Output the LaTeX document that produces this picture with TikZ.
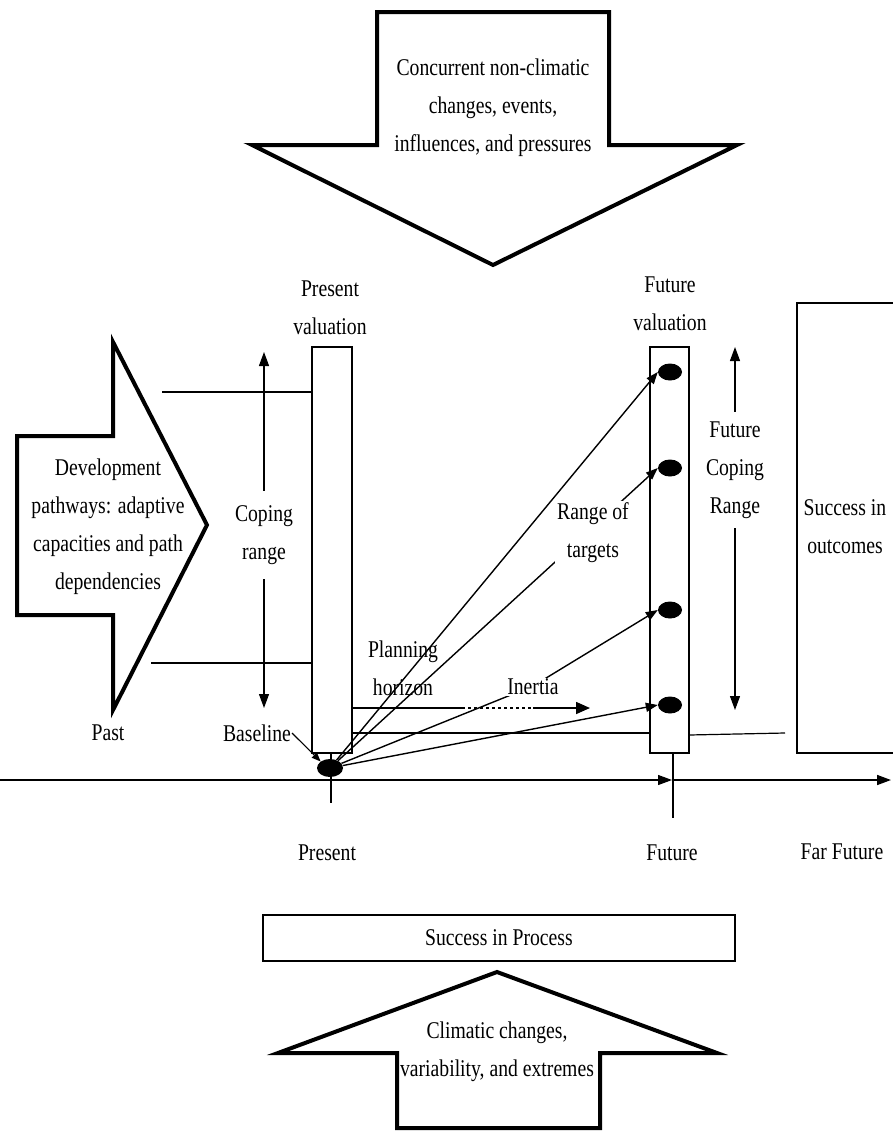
\documentclass[tikz,border=0pt]{standalone}
\usepackage{fontspec}
\setmainfont{Liberation Serif}[FakeStretch=0.82]
\usetikzlibrary{arrows.meta,shapes.geometric}
\newcommand\lbfont{\fontsize{24}{38}\selectfont}
\begin{document}
\begin{tikzpicture}[x=1pt,y=-1pt,
  bigarrow/.style={draw,line width=4pt,fill=white,line join=miter},
  lbl/.style={font=\lbfont,align=center,inner sep=1pt},
  gaplbl/.style={lbl,fill=white},
  bar/.style={draw,line width=1.3pt},
  thin/.style={line width=1.2pt},
  tgt/.style={line width=1.4pt,-{Triangle[length=12pt,width=9pt]}},
  dbl/.style={line width=1.2pt,{Triangle[length=14pt,width=10pt]}-{Triangle[length=14pt,width=10pt]}},
  dot/.style={ellipse,fill=black,minimum width=24pt,minimum height=17pt,inner sep=0pt}]
\useasboundingbox (0,0) rectangle (893,1135);

% big arrows
\draw[bigarrow] (377,12) -- (609,12) -- (609,145) -- (737,145) -- (493,265) -- (252,145) -- (377,145) -- cycle;
\node[lbl] (topTxt) at (493,108) {Concurrent non-climatic\\changes, events,\\influences, and pressures};

\draw[bigarrow] (17,436) -- (113,436) -- (113,342) -- (207,525) -- (113,710) -- (113,615) -- (17,615) -- cycle;
\node[lbl] (leftTxt) at (108,527) {Development\\pathways: adaptive\\capacities and path\\dependencies};

\draw[bigarrow] (397,1128) -- (397,1053) -- (278,1053) -- (497,972) -- (717,1053) -- (600,1053) -- (600,1128) -- cycle;
\node[lbl] (botTxt) at (497,1052) {Climatic changes,\\variability, and extremes};

% bars
\node[bar,minimum width=40pt,minimum height=406pt,inner sep=0pt] (presBar) at (332,550) {};
\node[bar,minimum width=39pt,minimum height=406pt,inner sep=0pt] (futBar) at (669.5,550) {};
\draw[bar] (900,303) -- (797,303) -- (797,753) -- (900,753);
\node[lbl] (outTxt) at (845,527) {Success in\\outcomes};
\node[lbl] (presVal) at (330,308) {Present\\valuation};
\node[lbl] (futVal) at (670,304) {Future\\valuation};

% reference lines
\coordinate (u0) at (162,392); \coordinate (u1) at (312,392);
\coordinate (l0) at (151,663); \coordinate (l1) at (312,663);
\coordinate (m0) at (352,733); \coordinate (m1) at (650,733);
\coordinate (r0) at (689,735); \coordinate (r1) at (785,733);
\draw[thin] (u0) -- (u1);
\draw[thin] (l0) -- (l1);
\draw[thin] (m0) -- (m1);
\draw[thin] (r0) -- (r1);

% coping ranges
\coordinate (c0) at (264,352); \coordinate (c1) at (264,708);
\draw[dbl] (c0) -- (c1);
\node[gaplbl,inner ysep=14pt] (coping) at (264,535) {Coping\\range};
\coordinate (f0) at (735,347); \coordinate (f1) at (735,710);
\draw[dbl] (f0) -- (f1);
\node[gaplbl,inner ysep=10pt] (fcoping) at (735,470) {Future\\Coping\\Range};

% time axis
\coordinate (ax0) at (0,780); \coordinate (axF) at (672,780); \coordinate (ax1) at (891,780);
\draw[thin,-{Triangle[length=14pt,width=10pt]}] (ax0) -- (axF);
\draw[line width=1.6pt,-{Triangle[length=14pt,width=10pt]}] (axF) -- (ax1);
\coordinate (t0) at (331,753); \coordinate (t1) at (331,803);
\coordinate (t2) at (673,753); \coordinate (t3) at (673,818);
\draw[thin] (t0) -- (t1);
\draw[thin] (t2) -- (t3);

% dots
\node[dot,minimum width=26pt,minimum height=18pt] (base) at (330,768) {};
\node[dot] (d1) at (670,372) {};
\node[dot] (d2) at (670,468) {};
\node[dot] (d3) at (670,610) {};
\node[dot] (d4) at (670,705) {};

% planning horizon
\coordinate (ph0) at (352,708); \coordinate (ph1) at (462,708);
\coordinate (ph2) at (533,708); \coordinate (ph3) at (590,708);
\draw[thin] (ph0) -- (ph1);
\draw[thin,dashed,dash pattern=on 3pt off 3pt] (ph1) -- (ph2);
\draw[line width=1.6pt,-{Triangle[length=14pt,width=12pt]}] (ph2) -- (ph3);
\node[lbl] (plan) at (403,668) {Planning\\horizon};

% target arrows
\draw[tgt] (base) -- (d1.west);
\draw[tgt] (base) -- (d2.west);
\draw[tgt] (base) -- (533,686) -- (d3.west);
\draw[tgt] (base) -- (d4.west);
\node[gaplbl,inner sep=2pt] (range) at (593,533) {Range of\\targets};
\node[gaplbl,inner sep=1pt] (inertia) at (533,687) {Inertia};

% other labels
\node[lbl] (past) at (108,733) {Past};
\node[lbl] (baseTxt) at (257,733) {Baseline};
\draw[thin,-{Triangle[length=9pt,width=7pt]}] (baseTxt.east) -- (base.north west);
\node[lbl] (present) at (327,853) {Present};
\node[lbl] (future) at (672,853) {Future};
\node[lbl] (far) at (842,852) {Far Future};

% success in process
\node[draw,line width=2pt,minimum width=472pt,minimum height=46pt,inner sep=0pt,font=\lbfont] (proc) at (499,938) {Success in Process};
\end{tikzpicture}
\end{document}
